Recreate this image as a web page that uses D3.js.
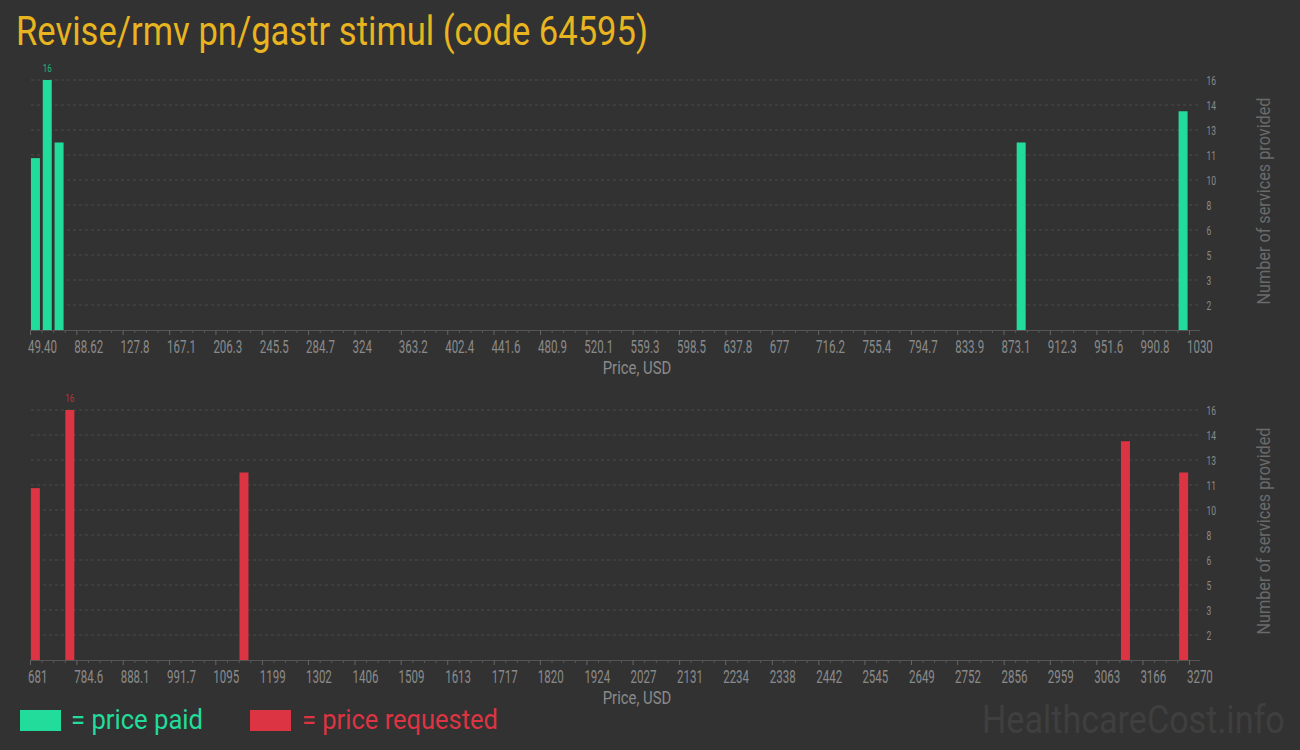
<!DOCTYPE html>
<html><head><meta charset="utf-8">
<script src="https://cdn.jsdelivr.net/npm/d3@7/dist/d3.min.js"></script>
<style>
html,body{margin:0;padding:0;background:#323232;}
svg{display:block;font-family:Roboto,"Noto Sans",sans-serif;}
</style></head>
<body>
<svg id="chart" width="1300" height="750"></svg>
<script>
const title = "Revise/rmv pn/gastr stimul (code 64595)";
// Top chart: price paid
const paidPrices = [54, 64, 74, 888, 1025];
const paidCounts = [11, 16, 12, 12, 14];
const paidTickLabels = ["49.40","88.62","127.8","167.1","206.3","245.5","284.7","324","363.2","402.4","441.6","480.9","520.1","559.3","598.5","637.8","677","716.2","755.4","794.7","833.9","873.1","912.3","951.6","990.8","1030"];
// Bottom chart: price requested
const reqPrices = [693, 770, 1159, 3128, 3258];
const reqCounts = [11, 16, 12, 14, 12];
const reqTickLabels = ["681","784.6","888.1","991.7","1095","1199","1302","1406","1509","1613","1717","1820","1924","2027","2131","2234","2338","2442","2545","2649","2752","2856","2959","3063","3166","3270"];
const yMax = 16;
const yTickLabels = ["2","3","5","6","8","10","11","13","14","16"];
const xTitle = "Price, USD";
const yTitle = "Number of services provided";
const legendLabels = ["= price paid", "= price requested"];
const watermark = "HealthcareCost.info";

const GREEN = "#21dc9b", RED = "#dc3442";
const svg = d3.select("#chart");

// title
svg.append("text").attr("x", 16).attr("y", 45)
  .attr("font-size", 40).attr("fill", "#e8b41f")
  .attr("textLength", 632).attr("lengthAdjust", "spacingAndGlyphs")
  .text(title);

function squeeze(sel, s) {
  sel.each(function() {
    const t = d3.select(this);
    const x = +t.attr("x") || 0;
    t.attr("transform", `translate(${x},0) scale(${s},1) translate(${-x},0)`);
  });
}
function fitWidth(sel, w) {
  const n = sel.node().getComputedTextLength();
  if (n > 0) squeeze(sel, w / n);
}

function panel(top, prices, counts, tickLabels, color, labelColor) {
  const yBottom = top + 250;
  const x = d3.scaleLinear().domain([+tickLabels[0], +tickLabels[tickLabels.length - 1]]).range([30, 1189]);
  const y = d3.scaleLinear().domain([0, yMax]).range([yBottom, top]);
  const g = svg.append("g");

  // gridlines
  const gridVals = yTickLabels.map((d, i) => (i + 1) * yMax / yTickLabels.length);
  g.selectAll(".grid").data(gridVals).enter().append("line")
    .attr("x1", 31).attr("x2", 1200)
    .attr("y1", d => y(d)).attr("y2", d => y(d))
    .attr("stroke", "#4b4b4b").attr("stroke-dasharray", "3,3").attr("stroke-width", 1);

  // right y labels
  const ya = g.append("g").attr("transform", "translate(1201,0)")
    .call(d3.axisRight(y).tickValues(gridVals).tickFormat((d, i) => yTickLabels[i]).tickSize(0).tickPadding(8));
  ya.select(".domain").remove();
  ya.selectAll("text").attr("fill", "#8a8a8a").attr("font-size", 12.5)
    .attr("font-family", "Roboto, sans-serif").attr("transform", "scale(0.68,1)");

  // minor ticks
  const majors = tickLabels.map(Number);
  const minors = [];
  for (let i = 0; i < majors.length - 1; i++) for (let k = 1; k < 4; k++) minors.push(majors[i] + (majors[i + 1] - majors[i]) * k / 4);
  g.append("g").attr("transform", `translate(0,${yBottom})`)
    .call(d3.axisBottom(x).tickValues(minors).tickSize(3).tickFormat(""))
    .call(a => a.select(".domain").remove())
    .selectAll("line").attr("stroke", "#5a5a5a");

  // major axis
  const xa = g.append("g").attr("transform", `translate(0,${yBottom})`)
    .call(d3.axisBottom(x).tickValues(majors).tickFormat((d, i) => tickLabels[i]).tickSize(5).tickPadding(5).tickSizeOuter(0));
  xa.select(".domain").attr("stroke", "#555").attr("d", `M30,0.5H1200`);
  xa.selectAll(".tick line").attr("stroke", "#666");
  xa.selectAll("text").attr("fill", "#8a8a8a").attr("font-size", 18)
    .attr("font-family", "Roboto, sans-serif")
    .attr("text-anchor", "start").attr("x", -4)
    .attr("transform", "scale(0.64,1)");

  // bars
  const bw = 9;
  const data = prices.map((p, i) => ({p, c: counts[i]}));
  g.selectAll(".bar").data(data).enter().append("rect")
    .attr("x", d => x(d.p) - bw / 2).attr("width", bw)
    .attr("y", d => y(d.c)).attr("height", d => yBottom - y(d.c))
    .attr("fill", color);

  // max label
  const mx = data.reduce((a, b) => b.c > a.c ? b : a);
  const lt = g.append("text").attr("x", x(mx.p)).attr("y", top - 8)
    .attr("text-anchor", "middle").attr("font-size", 11.5).attr("fill", labelColor)
    .text(mx.c);
  squeeze(lt, 0.7);

  // x title
  const xt = g.append("text").attr("x", 637).attr("y", yBottom + 44)
    .attr("text-anchor", "middle").attr("font-size", 17.5).attr("fill", "#8a8a8a").text(xTitle);
  squeeze(xt, 0.85);

  // y title
  const cy = top + 121;
  g.append("text").attr("transform", `translate(1270,${cy}) rotate(-90)`)
    .attr("text-anchor", "middle").attr("font-size", 18.5).attr("fill", "#6a6a6a")
    .attr("textLength", 207).attr("lengthAdjust", "spacingAndGlyphs").text(yTitle);
}

panel(80, paidPrices, paidCounts, paidTickLabels, GREEN, "#1fb583");
panel(410, reqPrices, reqCounts, reqTickLabels, RED, "#c0303b");

// legend
svg.append("rect").attr("x", 20).attr("y", 710).attr("width", 41).attr("height", 21).attr("fill", GREEN);
svg.append("text").attr("x", 71).attr("y", 729).attr("font-size", 27).attr("fill", GREEN)
  .attr("textLength", 132).attr("lengthAdjust", "spacingAndGlyphs").text(legendLabels[0]);
svg.append("rect").attr("x", 250).attr("y", 710).attr("width", 41).attr("height", 21).attr("fill", RED);
svg.append("text").attr("x", 302).attr("y", 729).attr("font-size", 27).attr("fill", RED)
  .attr("textLength", 196).attr("lengthAdjust", "spacingAndGlyphs").text(legendLabels[1]);

// watermark
const wm = svg.append("text").attr("x", 982).attr("y", 733).attr("font-size", 39).attr("fill", "#3f3f3f")
  .text(watermark);
fitWidth(wm, 303);
</script>
</body></html>
